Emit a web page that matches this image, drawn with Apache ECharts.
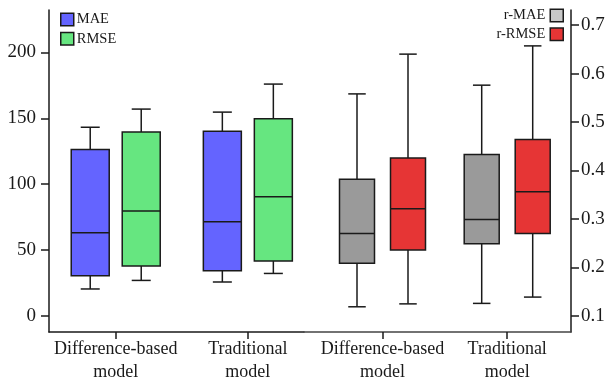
<!DOCTYPE html>
<html>
<head>
<meta charset="utf-8">
<script src="https://cdn.jsdelivr.net/npm/echarts@6/dist/echarts.min.js"></script>
<style>
html,body{margin:0;padding:0;background:#fff;}
#c{width:605px;height:379px;}
</style>
</head>
<body>
<div id="c"></div>
<script>
// ---- data ----
const categories = ['Difference-based\nmodel', 'Traditional\nmodel'];
// [min, Q1, median, Q3, max]
const maeStats  = [[20.3, 30.4, 63, 126.2, 143.2], [25.6, 34.1, 71.3, 140.1, 154.7]];
const rmseStats = [[26.8, 37.7, 79.6, 139.6, 157], [32.1, 41.5, 90.3, 149.6, 176]];
const rMaeStats  = [[0.119, 0.209, 0.270, 0.382, 0.558], [0.126, 0.249, 0.299, 0.433, 0.576]];
const rRmseStats = [[0.125, 0.236, 0.321, 0.426, 0.640], [0.139, 0.270, 0.356, 0.464, 0.657]];
const leftTicks = [0, 50, 100, 150, 200];
const rightTicks = [0.1, 0.2, 0.3, 0.4, 0.5, 0.6, 0.7];

// ---- style ----
const FONT = '"Liberation Serif", "Times New Roman", serif';
const INK = '#1a1a1a';
const colors = { 'MAE': '#6464ff', 'RMSE': '#66e680', 'r-MAE': '#9a9a9a', 'r-RMSE': '#e63535' };

function toData(stats) {
  return stats.map((s, i) => [i + 1].concat(s));
}

function makeRender(offsetPx, boxW) {
  return function (params, api) {
    const x = api.value(0);
    const pMin = api.coord([x, api.value(1)]);
    const pQ1 = api.coord([x, api.value(2)]);
    const pMed = api.coord([x, api.value(3)]);
    const pQ3 = api.coord([x, api.value(4)]);
    const pMax = api.coord([x, api.value(5)]);
    const cx = pMin[0] + offsetPx;
    const hw = boxW / 2, cw = boxW / 4;
    const lineStyle = { stroke: INK, lineWidth: 1.5 };
    return {
      type: 'group',
      children: [
        { type: 'line', shape: { x1: cx, y1: pMax[1], x2: cx, y2: pQ3[1] }, style: lineStyle },
        { type: 'line', shape: { x1: cx, y1: pQ1[1], x2: cx, y2: pMin[1] }, style: lineStyle },
        { type: 'line', shape: { x1: cx - cw, y1: pMax[1], x2: cx + cw, y2: pMax[1] }, style: lineStyle },
        { type: 'line', shape: { x1: cx - cw, y1: pMin[1], x2: cx + cw, y2: pMin[1] }, style: lineStyle },
        { type: 'rect', shape: { x: cx - hw, y: pQ3[1], width: boxW, height: pQ1[1] - pQ3[1] },
          style: { fill: api.visual('color'), stroke: INK, lineWidth: 1.5 } },
        { type: 'line', shape: { x1: cx - hw, y1: pMed[1], x2: cx + hw, y2: pMed[1] }, style: lineStyle }
      ]
    };
  };
}

function xAxisFor(gridIndex, min, max, lineColor) {
  return {
    type: 'value', gridIndex: gridIndex, min: min, max: max,
    splitLine: { show: false },
    axisLine: { show: true, onZero: false, lineStyle: { color: lineColor, width: 1.5 } },
    axisTick: { show: true, customValues: [1, 2], length: 7, lineStyle: { color: INK, width: 1.5 } },
    axisLabel: {
      customValues: [1, 2], margin: 6,
      formatter: v => categories[Math.round(v) - 1] || '',
      fontFamily: FONT, fontSize: 18, color: INK, lineHeight: 23
    }
  };
}

const chart = echarts.init(document.getElementById('c'), null, { renderer: 'canvas' });
chart.setOption({
  backgroundColor: '#fff',
  animation: false,
  grid: [
    { left: 49, top: 10, width: 255, height: 322, outerBoundsMode: 'none', containLabel: false },
    { left: 304, top: 10, width: 267, height: 322, outerBoundsMode: 'none', containLabel: false }
  ],
  legend: [
    {
      data: ['MAE', 'RMSE'], orient: 'vertical', left: 60, top: 12, padding: 0,
      icon: 'rect', itemWidth: 13, itemHeight: 12.5, itemGap: 4.2,
      itemStyle: { borderColor: INK, borderWidth: 1.5 },
      textStyle: { fontFamily: FONT, fontSize: 14.5, color: INK, padding: [0, 0, 0, -2] }
    },
    {
      data: [{ name: 'r-MAE', itemStyle: { color: '#c8c8c8' } }, 'r-RMSE'],
      orient: 'vertical', right: 41, top: 8, align: 'right', padding: 0,
      icon: 'rect', itemWidth: 13, itemHeight: 12.5, itemGap: 3.8,
      itemStyle: { borderColor: INK, borderWidth: 1.5 },
      textStyle: { fontFamily: FONT, fontSize: 14.5, color: INK }
    }
  ],
  xAxis: [
    xAxisFor(0, 0.495, 2.425, INK),
    xAxisFor(1, 0.3705, 2.5116, '#444')
  ],
  yAxis: [
    {
      type: 'value', gridIndex: 0, position: 'left', min: -12.4, max: 232.3,
      splitLine: { show: false },
      axisLine: { show: true, lineStyle: { color: INK, width: 1.5 } },
      axisTick: { show: true, customValues: leftTicks, length: 8, lineStyle: { color: INK, width: 1.5 } },
      axisLabel: { customValues: leftTicks, margin: 13, fontFamily: FONT, fontSize: 19, color: INK }
    },
    {
      type: 'value', gridIndex: 1, position: 'right', min: 0.067, max: 0.731,
      splitLine: { show: false },
      axisLine: { show: true, lineStyle: { color: INK, width: 1.5 } },
      axisTick: { show: true, customValues: rightTicks, length: 8, lineStyle: { color: INK, width: 1.5 } },
      axisLabel: { customValues: rightTicks, margin: 10, fontFamily: FONT, fontSize: 19, color: INK,
                   formatter: v => v.toFixed(1) }
    }
  ],
  series: [
    { name: 'MAE', type: 'custom', xAxisIndex: 0, yAxisIndex: 0, itemStyle: { color: colors['MAE'] },
      encode: { x: 0, y: [1, 2, 3, 4, 5] }, renderItem: makeRender(-25.5, 38), data: toData(maeStats) },
    { name: 'RMSE', type: 'custom', xAxisIndex: 0, yAxisIndex: 0, itemStyle: { color: colors['RMSE'] },
      encode: { x: 0, y: [1, 2, 3, 4, 5] }, renderItem: makeRender(25.5, 38), data: toData(rmseStats) },
    { name: 'r-MAE', type: 'custom', xAxisIndex: 1, yAxisIndex: 1, itemStyle: { color: colors['r-MAE'] },
      encode: { x: 0, y: [1, 2, 3, 4, 5] }, renderItem: makeRender(-25.5, 35), data: toData(rMaeStats) },
    { name: 'r-RMSE', type: 'custom', xAxisIndex: 1, yAxisIndex: 1, itemStyle: { color: colors['r-RMSE'] },
      encode: { x: 0, y: [1, 2, 3, 4, 5] }, renderItem: makeRender(25.5, 35), data: toData(rRmseStats) }
  ]
});
</script>
</body>
</html>
